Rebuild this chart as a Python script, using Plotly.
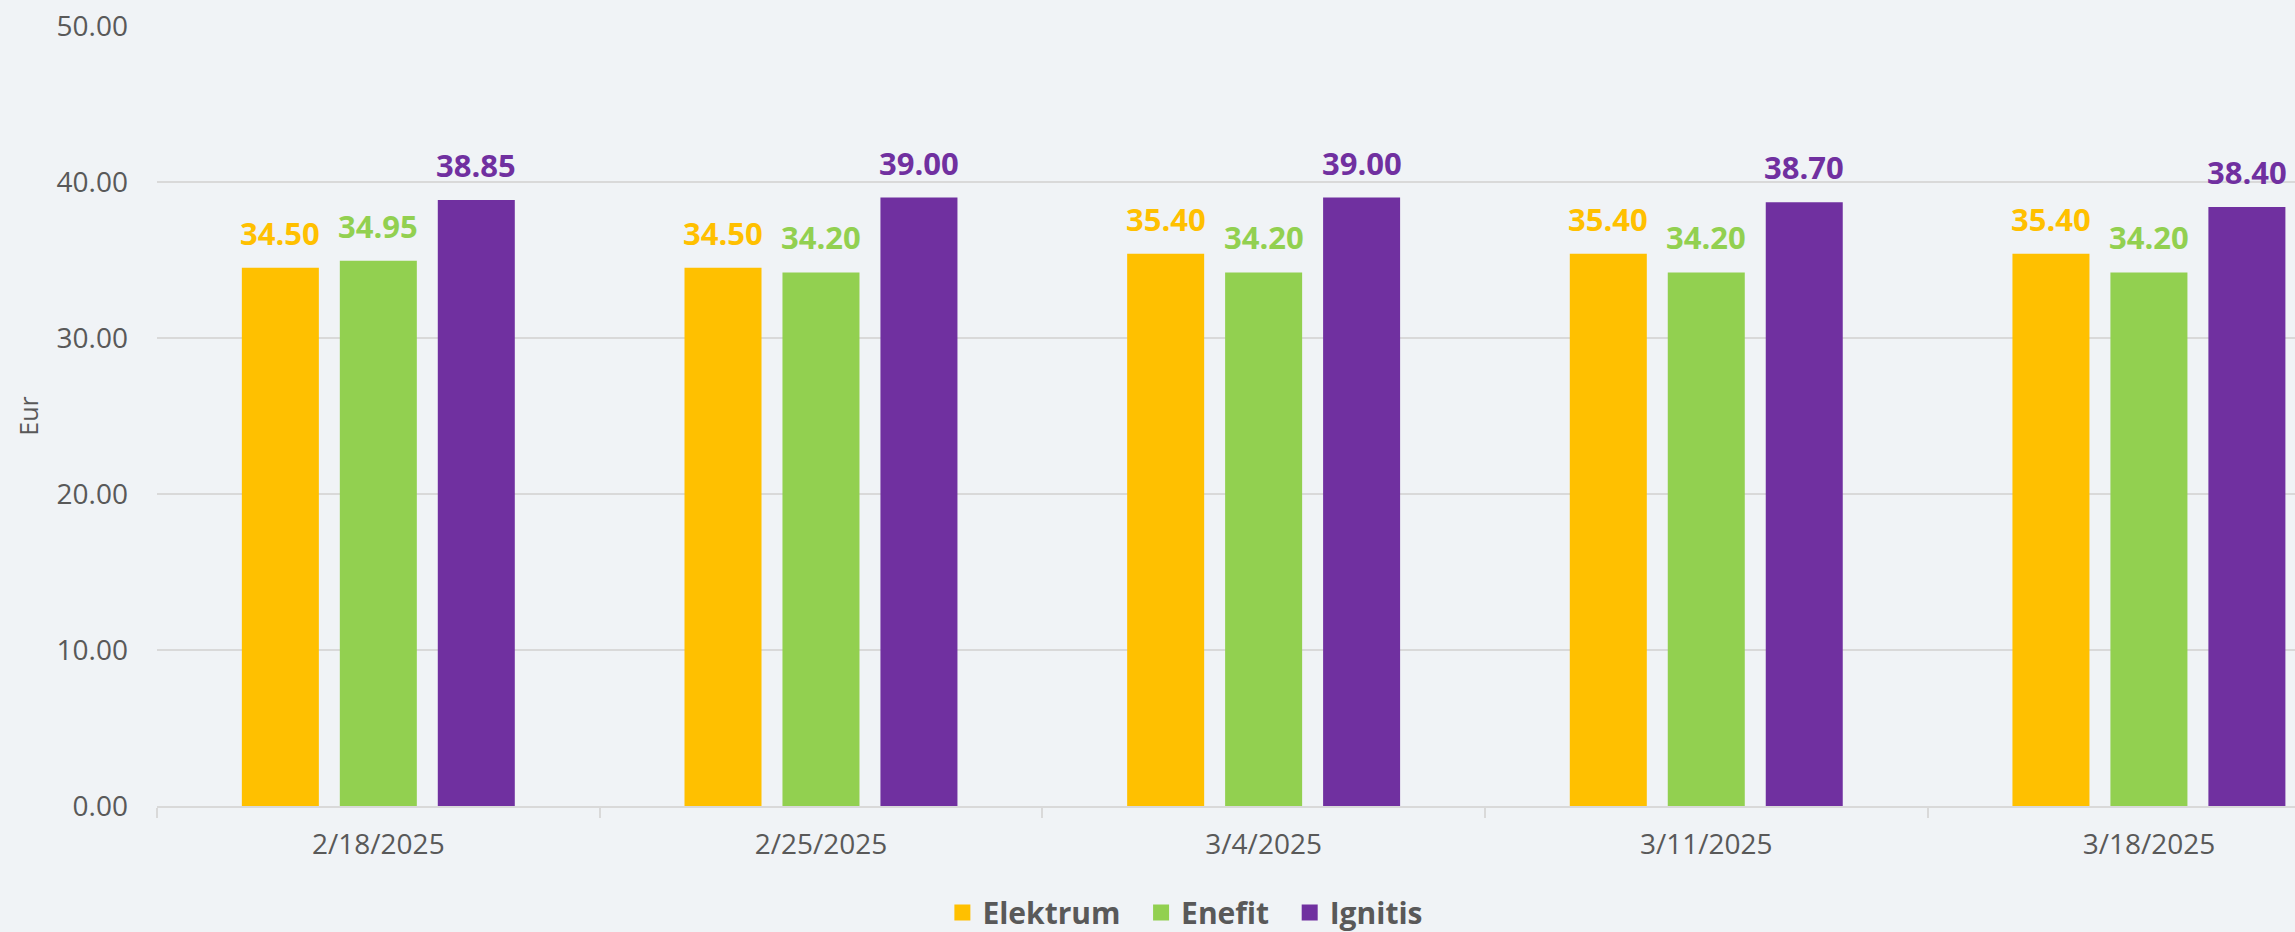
import plotly.graph_objects as go

dates = ["2/18/2025", "2/25/2025", "3/4/2025", "3/11/2025", "3/18/2025"]
series_names = ["Elektrum", "Enefit", "Ignitis"]
elektrum = [34.50, 34.50, 35.40, 35.40, 35.40]
enefit = [34.95, 34.20, 34.20, 34.20, 34.20]
ignitis = [38.85, 39.00, 39.00, 38.70, 38.40]
colors = ["#FFC000", "#92D050", "#7030A0"]
y_ticks = [0, 10, 20, 30, 40, 50]

BARGAP = 0.336
BARGROUPGAP = 0.214
FONT = "Open Sans"
GREY = "#595959"
GRID = "#D9D9D9"
NBSP = "\u00a0"

fig = go.Figure()
all_series = [elektrum, enefit, ignitis]
for idx, (name, vals, col) in enumerate(zip(series_names, all_series, colors)):
    fig.add_trace(go.Bar(
        x=dates, y=vals, name=name, marker=dict(color=col, line=dict(width=0)),
        showlegend=False, hoverinfo="x+y+name",
    ))
    # legend proxy (larger square symbol); extra spacing after all but last item
    pad = NBSP * 2 if idx < len(series_names) - 1 else ""
    fig.add_trace(go.Scatter(
        x=[None], y=[None], mode="markers", name=name + pad,
        marker=dict(symbol="square", size=16, color=col), showlegend=True,
    ))

# value labels, placed at the centre of each bar slot
n = len(all_series)
slot = (1 - BARGAP) / n
annotations = []
for k, (vals, col) in enumerate(zip(all_series, colors)):
    off = (k - (n - 1) / 2) * slot
    for i, v in enumerate(vals):
        annotations.append(dict(
            x=i + off, y=v, xref="x", yref="y", text=f"<b>{v:.2f}</b>",
            showarrow=False, yanchor="bottom", xanchor="center", yshift=12,
            font=dict(family=FONT, size=31, color=col),
        ))

fig.update_layout(
    width=2295, height=932,
    margin=dict(l=157, r=0, t=26, b=126),
    paper_bgcolor="#F0F3F6", plot_bgcolor="#F0F3F6",
    barmode="group", bargap=BARGAP, bargroupgap=BARGROUPGAP,
    font=dict(family=FONT, color=GREY),
    annotations=annotations,
    legend=dict(
        orientation="h", x=0.481, xanchor="center", yref="container", y=0.021,
        yanchor="middle", font=dict(family=FONT, size=30, color=GREY, weight="bold"),
        bgcolor="rgba(0,0,0,0)", itemclick=False,
    ),
    showlegend=True,
)
fig.update_xaxes(
    type="category", range=[-0.5, 4.33], showgrid=False,
    showline=True, linecolor=GRID, linewidth=2,
    ticks="outside", tickson="boundaries", ticklen=10, tickcolor=GRID, tickwidth=2,
    tickfont=dict(family=FONT, size=28, color=GREY), ticklabelstandoff=12,
)
fig.update_yaxes(
    range=[0, 50], tickvals=y_ticks, tickformat=".2f",
    showgrid=True, gridcolor=GRID, gridwidth=2, zeroline=False, showline=False,
    tickfont=dict(family=FONT, size=28, color=GREY), ticklabelstandoff=28,
    title=dict(text="Eur", font=dict(family=FONT, size=25, color=GREY), standoff=10),
)

fig.write_html(
    "out.html",
    config={"displayModeBar": False},
    post_script="document.body.style.margin='0';document.body.style.overflow='hidden';",
)
